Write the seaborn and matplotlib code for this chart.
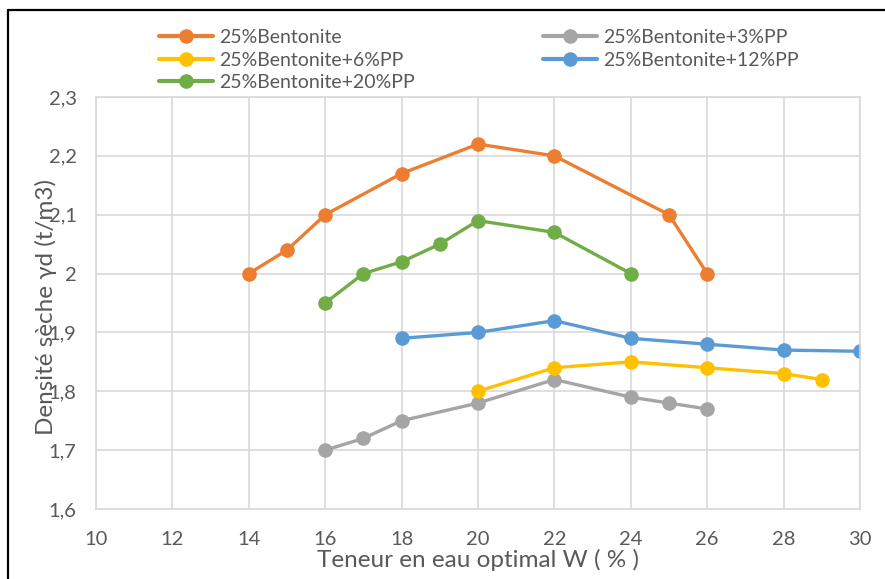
import matplotlib
matplotlib.use("Agg")
import matplotlib.pyplot as plt
from matplotlib.lines import Line2D
from matplotlib.ticker import FuncFormatter
import seaborn as sns
import pandas as pd

# ---- data ----
series_names = ["25%Bentonite", "25%Bentonite+3%PP", "25%Bentonite+6%PP",
                "25%Bentonite+12%PP", "25%Bentonite+20%PP"]
colors = ["#ED7D31", "#A5A5A5", "#FFC000", "#5B9BD5", "#70AD47"]

w_bent = [14, 15, 16, 18, 20, 22, 25, 26]
d_bent = [2.00, 2.04, 2.10, 2.17, 2.22, 2.20, 2.10, 2.00]

w_pp3 = [16, 17, 18, 20, 22, 24, 25, 26]
d_pp3 = [1.70, 1.72, 1.75, 1.78, 1.82, 1.79, 1.78, 1.77]

w_pp6 = [20, 22, 24, 26, 28, 29]
d_pp6 = [1.80, 1.84, 1.85, 1.84, 1.83, 1.82]

w_pp12 = [18, 20, 22, 24, 26, 28, 30]
d_pp12 = [1.89, 1.90, 1.92, 1.89, 1.88, 1.87, 1.868]

w_pp20 = [16, 17, 18, 19, 20, 22, 24]
d_pp20 = [1.95, 2.00, 2.02, 2.05, 2.09, 2.07, 2.00]

x_ticks = [10, 12, 14, 16, 18, 20, 22, 24, 26, 28, 30]
y_ticks = [1.6, 1.7, 1.8, 1.9, 2.0, 2.1, 2.2, 2.3]

xs = [w_bent, w_pp3, w_pp6, w_pp12, w_pp20]
ys = [d_bent, d_pp3, d_pp6, d_pp12, d_pp20]
rows = []
for name, xv, yv in zip(series_names, xs, ys):
    for a, b in zip(xv, yv):
        rows.append({"W": a, "D": b, "Série": name})
df = pd.DataFrame(rows)

sns.set_style("white")
plt.rcParams["font.family"] = ["Lato", "DejaVu Sans"]

fig = plt.figure(figsize=(8.85, 5.79), dpi=100)
ax = fig.add_axes([96 / 885, 1 - 509 / 579, 764 / 885, 412 / 579])

palette = dict(zip(series_names, colors))
sns.lineplot(data=df, x="W", y="D", hue="Série", hue_order=series_names,
             palette=palette, sort=False, marker="o", markersize=10.5,
             markeredgewidth=0, linewidth=2.4, ax=ax, legend=False)


def fmt(v, p):
    if abs(v - round(v)) < 1e-9:
        return str(int(round(v)))
    return f"{v:.1f}".replace(".", ",")


ax.set_xlim(10, 30)
ax.set_ylim(1.6, 2.3)
ax.set_xticks(x_ticks)
ax.set_yticks(y_ticks)
ax.yaxis.set_major_formatter(FuncFormatter(fmt))
ax.grid(True, color="#D9D9D9", linewidth=1.2)
for s in ax.spines.values():
    s.set_color("#D9D9D9")
    s.set_linewidth(1.2)
ax.tick_params(axis="both", length=0, labelsize=14.5, colors="#595959")
ax.tick_params(axis="x", pad=16)
ax.tick_params(axis="y", pad=14)

ax.set_xlabel("Teneur en eau optimal W ( % )", fontsize=17.5, color="#595959")
ax.set_ylabel("Densité sèche γd (t/m3)", fontsize=17.5, color="#595959")
ax.xaxis.set_label_coords(0.5, -0.097)
ax.yaxis.set_label_coords(-0.051, 0.49)

# legend (row-wise order in reference -> column-wise arrangement here)
order = [0, 2, 4, 1, 3]
handles = [Line2D([0], [0], color=colors[i], marker="o", markersize=10.5,
                  markeredgewidth=0, linewidth=3) for i in order]
labels = [series_names[i] for i in order]
fig.legend(handles, labels, loc="upper left", ncol=2,
           bbox_to_anchor=(159 / 885, 1 - 29 / 579), frameon=False,
           fontsize=14, handlelength=2.8, handletextpad=0.28,
           columnspacing=6.6, labelspacing=0.29, labelcolor="#595959",
           borderpad=0, borderaxespad=0)

# partial outer frame (left and top)
fig.add_artist(Line2D([8 / 885, 8 / 885], [0, 1 - 10 / 579], color="black",
                      linewidth=1.6, transform=fig.transFigure))
fig.add_artist(Line2D([8 / 885, 1], [1 - 10 / 579, 1 - 10 / 579], color="black",
                      linewidth=1.6, transform=fig.transFigure))

fig.savefig("out.png", dpi=100)
